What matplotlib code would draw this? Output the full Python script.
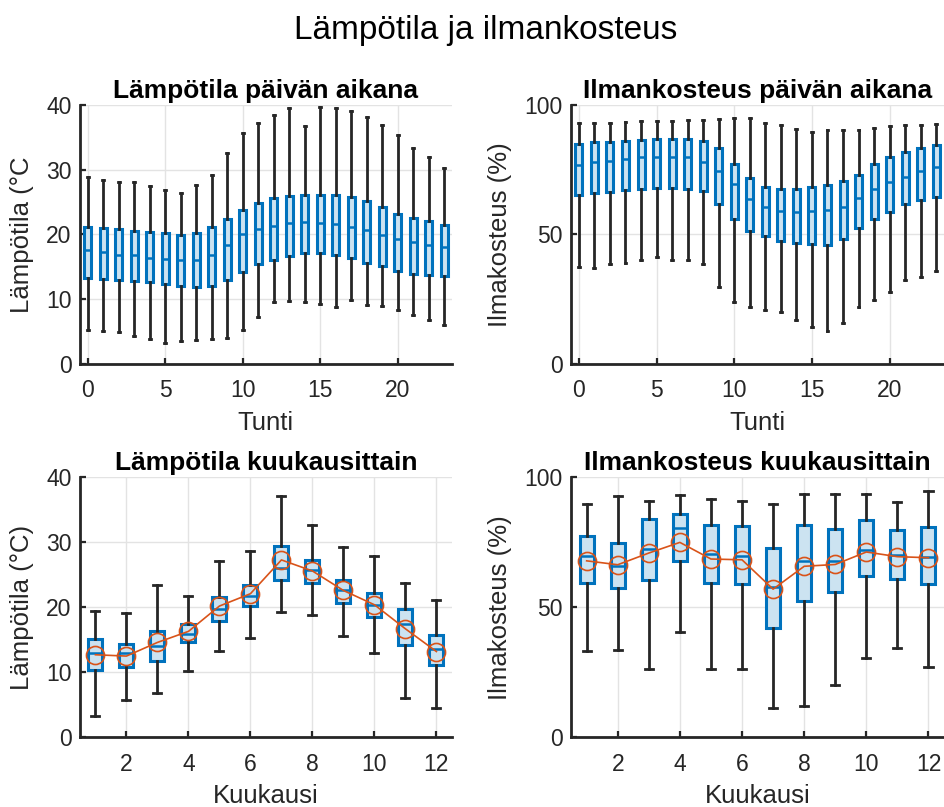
import matplotlib
matplotlib.use('Agg')
import matplotlib.pyplot as plt
import numpy as np

plt.rcParams['font.family'] = ['Liberation Sans', 'DejaVu Sans']

BLUE = '#0072BD'
FACE = '#CCE3F1'
DARK = '#262626'
ORANGE = '#D95319'
GRID = '#E3E3E3'

hours = np.arange(24)
months = np.arange(1, 13)

# Lämpötila tunneittain (°C)
t_hour_lo = [5.2, 5.1, 4.9, 4.3, 3.9, 3.2, 3.6, 3.7, 3.8, 4.0, 5.2, 7.3,
             9.6, 9.7, 9.5, 9.3, 8.8, 9.9, 9.1, 8.9, 8.3, 7.6, 6.8, 6.0]
t_hour_q1 = [13.2, 13.1, 13.0, 12.8, 12.6, 12.3, 12.1, 11.9, 12.1, 13.0, 14.2, 15.5,
             16.1, 16.6, 17.1, 17.1, 16.8, 16.3, 15.6, 15.1, 14.3, 13.9, 13.8, 13.6]
t_hour_med = [17.6, 17.3, 16.9, 16.8, 16.3, 16.2, 16.1, 16.0, 16.8, 18.4, 20.0, 20.8,
              21.3, 21.7, 21.9, 21.8, 21.6, 21.2, 20.7, 19.9, 19.3, 18.8, 18.3, 18.0]
t_hour_q3 = [21.2, 21.0, 20.9, 20.6, 20.4, 20.2, 19.9, 20.2, 21.1, 22.4, 23.8, 24.9,
             25.7, 26.0, 26.1, 26.1, 26.1, 25.8, 25.1, 24.2, 23.2, 22.5, 22.0, 21.5]
t_hour_hi = [28.8, 28.4, 28.1, 28.1, 27.5, 26.9, 26.4, 27.6, 29.2, 32.6, 35.7, 37.2,
             38.5, 39.6, 36.7, 39.7, 39.6, 39.1, 38.1, 36.9, 35.3, 33.4, 32.0, 30.3]

# Ilmankosteus tunneittain (%)
h_hour_lo = [37.5, 36.9, 38.5, 39.1, 40.2, 41.2, 40.0, 40.0, 38.5, 29.6, 23.8, 21.9,
             20.8, 19.9, 16.9, 14.2, 12.9, 15.8, 21.9, 24.5, 27.7, 32.3, 33.7, 35.8]
h_hour_q1 = [65.4, 65.9, 66.4, 67.1, 67.6, 67.8, 67.8, 67.4, 66.8, 61.6, 55.9, 51.4,
             49.3, 47.5, 46.6, 46.3, 46.1, 48.4, 52.4, 55.9, 58.6, 61.6, 63.2, 64.6]
h_hour_med = [76.8, 77.9, 78.5, 79.2, 79.7, 79.7, 79.7, 79.7, 78.0, 74.3, 69.4, 63.7,
              60.5, 59.2, 58.8, 58.9, 59.5, 60.7, 64.0, 67.4, 70.3, 72.2, 74.3, 76.2]
h_hour_q3 = [84.9, 85.5, 85.8, 86.2, 86.6, 86.9, 87.0, 86.7, 86.1, 83.5, 77.3, 71.6,
             68.5, 67.6, 67.4, 68.2, 69.1, 70.7, 73.1, 77.1, 79.7, 81.9, 83.5, 84.7]
h_hour_hi = [93.1, 93.1, 93.2, 93.4, 93.8, 93.8, 93.8, 94.1, 94.3, 94.7, 95.0, 94.9,
             92.9, 92.4, 90.6, 89.4, 90.2, 90.3, 90.3, 91.0, 92.0, 92.1, 92.4, 92.7]

# Lämpötila kuukausittain (°C)
t_mon_lo = [3.2, 5.8, 6.8, 10.2, 13.3, 15.3, 19.3, 18.8, 15.6, 12.9, 6.0, 4.5]
t_mon_q1 = [10.4, 10.8, 11.7, 14.6, 17.9, 20.2, 24.2, 23.8, 20.7, 18.5, 14.2, 11.1]
t_mon_med = [13.0, 12.9, 14.1, 15.9, 19.8, 21.8, 26.0, 25.7, 22.6, 20.4, 17.4, 13.6]
t_mon_q3 = [15.2, 14.3, 16.4, 17.5, 21.6, 23.5, 29.4, 27.3, 24.2, 22.2, 19.7, 15.8]
t_mon_hi = [19.4, 19.2, 23.5, 21.8, 27.2, 28.6, 37.1, 32.6, 29.3, 27.9, 23.8, 21.1]
t_mon_mean = [12.7, 12.5, 14.6, 16.3, 20.2, 22.1, 27.3, 25.6, 22.6, 20.4, 16.7, 13.2]

# Ilmankosteus kuukausittain (%)
h_mon_lo = [33.2, 33.6, 26.2, 40.4, 26.2, 26.2, 11.2, 12.2, 20.1, 30.6, 34.2, 27.2]
h_mon_q1 = [59.5, 57.4, 60.5, 67.8, 59.2, 59.0, 42.2, 52.3, 55.9, 62.1, 61.0, 58.8]
h_mon_med = [69.6, 66.0, 72.4, 80.5, 70.4, 69.6, 57.9, 67.8, 67.8, 71.9, 70.3, 69.5]
h_mon_q3 = [77.3, 74.6, 84.0, 86.0, 81.8, 81.4, 72.7, 81.7, 80.1, 83.5, 79.7, 80.8]
h_mon_hi = [89.6, 92.8, 91.0, 93.1, 91.8, 91.0, 89.9, 93.5, 93.6, 93.5, 90.4, 94.7]
h_mon_mean = [67.9, 66.4, 70.9, 75.0, 68.6, 68.3, 57.0, 65.8, 66.5, 71.3, 69.5, 69.1]


def draw_boxes(ax, pos, lo, q1, med, q3, hi, capw):
    stats = [dict(whislo=a, q1=b, med=c, q3=d, whishi=e, fliers=[])
             for a, b, c, d, e in zip(lo, q1, med, q3, hi)]
    ax.bxp(stats, positions=pos, widths=0.45, patch_artist=True,
           showfliers=False, manage_ticks=False, capwidths=capw,
           boxprops=dict(facecolor=FACE, edgecolor=BLUE, linewidth=2.2),
           medianprops=dict(color=BLUE, linewidth=1.8),
           whiskerprops=dict(color=DARK, linewidth=2.0),
           capprops=dict(color=DARK, linewidth=2.0))


def style_axes(ax, title, xlabel, ylabel):
    ax.set_title(title, fontsize=19, fontweight='bold', color='black', pad=5)
    ax.set_xlabel(xlabel, fontsize=18.5, color=DARK, labelpad=6)
    ax.set_ylabel(ylabel, fontsize=18.5, color=DARK, labelpad=9)
    ax.spines['top'].set_visible(False)
    ax.spines['right'].set_visible(False)
    for s in ('left', 'bottom'):
        ax.spines[s].set_color(DARK)
        ax.spines[s].set_linewidth(2.0)
    ax.tick_params(direction='in', length=4, width=1.6, color=DARK,
                   labelcolor=DARK, labelsize=16.5)
    ax.tick_params(axis='x', pad=11)
    ax.tick_params(axis='y', pad=6)
    ax.grid(True, color=GRID, linewidth=1.0)
    ax.set_axisbelow(True)


fig = plt.figure(figsize=(9.44, 8.07), dpi=100)
ax1 = fig.add_axes([0.0847, 0.549, 0.394, 0.321])
ax2 = fig.add_axes([0.605, 0.549, 0.395, 0.321])
ax3 = fig.add_axes([0.0847, 0.0864, 0.394, 0.322])
ax4 = fig.add_axes([0.605, 0.0864, 0.395, 0.322])

draw_boxes(ax1, hours, t_hour_lo, t_hour_q1, t_hour_med, t_hour_q3, t_hour_hi, 0.12)
ax1.set_xlim(-0.5, 23.5)
ax1.set_ylim(0, 40)
ax1.set_xticks([0, 5, 10, 15, 20])
ax1.set_yticks([0, 10, 20, 30, 40])
style_axes(ax1, 'Lämpötila päivän aikana', 'Tunti', 'Lämpötila (°C')

draw_boxes(ax2, hours, h_hour_lo, h_hour_q1, h_hour_med, h_hour_q3, h_hour_hi, 0.12)
ax2.set_xlim(-0.5, 23.5)
ax2.set_ylim(0, 100)
ax2.set_xticks([0, 5, 10, 15, 20])
ax2.set_yticks([0, 50, 100])
style_axes(ax2, 'Ilmankosteus päivän aikana', 'Tunti', 'Ilmakosteus (%)')

draw_boxes(ax3, months, t_mon_lo, t_mon_q1, t_mon_med, t_mon_q3, t_mon_hi, 0.26)
ax3.plot(months, t_mon_mean, '-o', color=ORANGE, lw=1.2, ms=13,
         mfc='none', mec=ORANGE, mew=1.2, zorder=5)
ax3.set_xlim(0.5, 12.5)
ax3.set_ylim(0, 40)
ax3.set_xticks([2, 4, 6, 8, 10, 12])
ax3.set_yticks([0, 10, 20, 30, 40])
style_axes(ax3, 'Lämpötila kuukausittain', 'Kuukausi', 'Lämpötila (°C)')

draw_boxes(ax4, months, h_mon_lo, h_mon_q1, h_mon_med, h_mon_q3, h_mon_hi, 0.26)
ax4.plot(months, h_mon_mean, '-o', color=ORANGE, lw=1.2, ms=13,
         mfc='none', mec=ORANGE, mew=1.2, zorder=5)
ax4.set_xlim(0.5, 12.5)
ax4.set_ylim(0, 100)
ax4.set_xticks([2, 4, 6, 8, 10, 12])
ax4.set_yticks([0, 50, 100])
style_axes(ax4, 'Ilmankosteus kuukausittain', 'Kuukausi', 'Ilmakosteus (%)')

fig.suptitle('Lämpötila ja ilmankosteus', fontsize=24, x=0.515, y=0.962, va='center')

fig.savefig('out.png', dpi=100)
